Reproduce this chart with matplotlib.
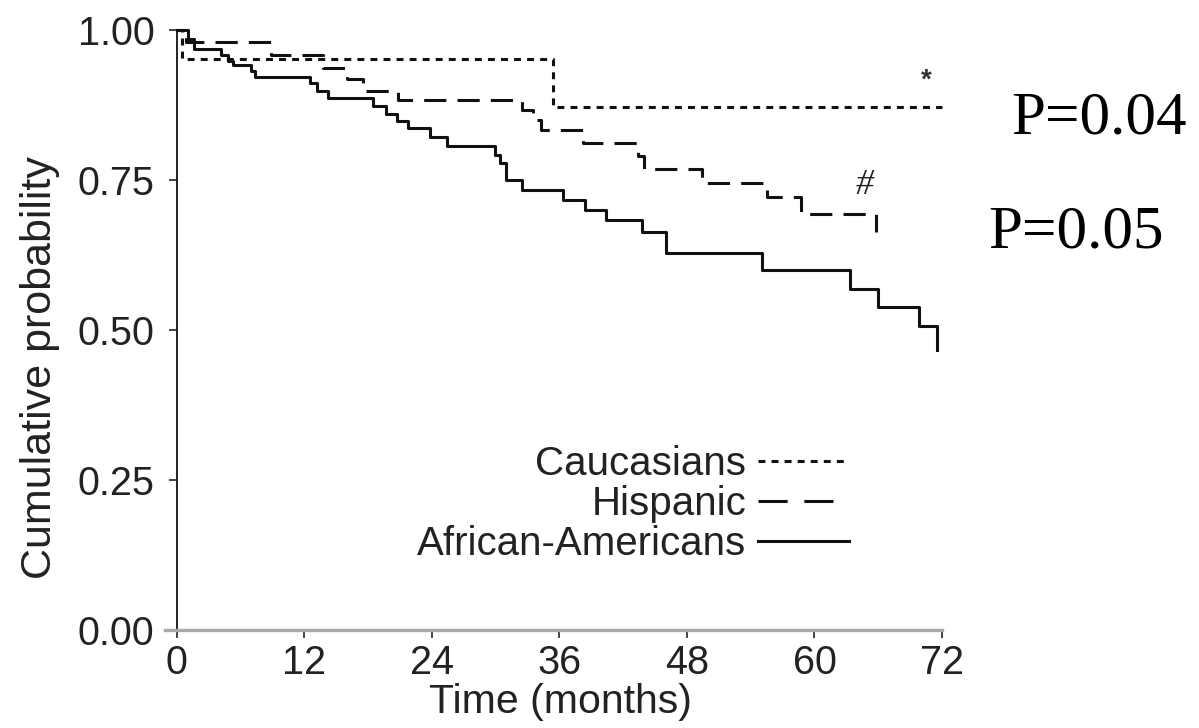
import matplotlib
matplotlib.use("Agg")
import matplotlib.pyplot as plt
from matplotlib.lines import Line2D

plt.rcParams["lines.scale_dashes"] = False
plt.rcParams["font.family"] = ["Liberation Sans", "DejaVu Sans"]

# Kaplan-Meier step data (months, cumulative probability)
cauc_t = [0, 0.5, 35.4, 72.0]
cauc_s = [1.0, 0.952, 0.872, 0.872]

hisp_t = [0, 0.9, 8.9, 13.8, 16.0, 17.5, 20.8, 32.5, 33.5, 34.3, 38.2,
          43.4, 44.0, 49.4, 55.5, 58.7, 65.8]
hisp_s = [1.0, 0.98, 0.958, 0.936, 0.918, 0.898, 0.883, 0.867, 0.85, 0.833,
          0.812, 0.79, 0.769, 0.745, 0.722, 0.693, 0.664]

afam_t = [0, 1.1, 1.6, 4.2, 4.8, 5.3, 7.0, 7.4, 12.5, 13.2, 14.2, 18.5,
          19.7, 20.7, 21.8, 23.8, 25.4, 29.9, 30.4, 31.0, 32.5, 36.3, 38.4,
          40.4, 43.8, 46.0, 55.1, 63.3, 66.0, 69.8, 71.5]
afam_s = [1.0, 0.985, 0.969, 0.958, 0.948, 0.942, 0.932, 0.922, 0.912,
          0.899, 0.887, 0.873, 0.86, 0.848, 0.836, 0.822, 0.807, 0.792,
          0.778, 0.75, 0.734, 0.717, 0.70, 0.683, 0.664, 0.628, 0.60,
          0.569, 0.539, 0.506, 0.467]

labels = ["Caucasians", "Hispanic", "African-Americans"]
x_ticks = [0, 12, 24, 36, 48, 60, 72]
y_ticks = [0.0, 0.25, 0.5, 0.75, 1.0]
y_ticklabels = ["0.00", "0.25", "0.50", "0.75", "1.00"]
p_texts = ["P=0.04", "P=0.05"]

ink = "#111111"
txt = "#222222"
fig = plt.figure(figsize=(11.99, 7.28), dpi=100)
ax = fig.add_axes([165 / 1199, 98 / 728, 777 / 1199, 600 / 728])

lw = 2.2
l1, = ax.step(cauc_t, cauc_s, where="post", color=ink, lw=lw,
              linestyle=(0, (5.0, 4.4)), clip_on=False)
l2, = ax.step(hisp_t, hisp_s, where="post", color=ink, lw=lw,
              linestyle=(12, (16.0, 8.0)), clip_on=False)
l3, = ax.step(afam_t, afam_s, where="post", color=ink, lw=lw,
              linestyle="-", clip_on=False)

ax.text(70.5, 0.916, "*", fontsize=20, ha="center", va="center",
        color="#333333", fontweight="bold")
ax.text(64.7, 0.74, "#", fontsize=26, family="Liberation Serif",
        style="italic", ha="center", va="center", color=txt)

ax.set_xlim(-1.1, 72)
ax.set_ylim(0, 1.0)
ax.set_xticks(x_ticks)
ax.set_yticks(y_ticks)
ax.set_yticklabels(y_ticklabels)

for s in ("top", "right"):
    ax.spines[s].set_visible(False)
ax.spines["left"].set_position(("data", 0))
ax.spines["left"].set_color(ink)
ax.spines["left"].set_linewidth(1.3)
ax.spines["bottom"].set_color("#a8a8a8")
ax.spines["bottom"].set_linewidth(2.4)

ax.tick_params(axis="y", length=6, width=1.1, color=ink, pad=10,
               labelsize=28.5, labelcolor=txt)
ax.tick_params(axis="x", length=6, width=1.1, color=ink, pad=4,
               labelsize=28.5, labelcolor=txt)

ax.set_xlabel("Time (months)", fontsize=29.5, color=txt)
ax.xaxis.set_label_coords((560 - 165) / 777, -0.12)
ax.xaxis.label.set_va("center")
ax.set_ylabel("Cumulative probability", fontsize=31, color=txt)
ax.yaxis.set_label_coords((40 - 165) / 777, 0.438)
ax.yaxis.label.set_va("center")

# legend key for the dashed series uses a longer dash so two dashes show
h2 = Line2D([], [], color=ink, lw=lw, linestyle=(0, (21.0, 12.0)))

leg = ax.legend([l1, h2, l3], labels, loc="center right",
                bbox_to_anchor=((849 - 165) / 777, (630 - 504) / 600),
                frameon=False, markerfirst=False, fontsize=29,
                handlelength=2.25, handletextpad=0.3, labelspacing=0.05,
                borderpad=0, borderaxespad=0)
for t in leg.get_texts():
    t.set_color(txt)

fig.text(1011 / 1199, 1 - 119 / 728, p_texts[0], fontsize=44,
         family="Liberation Serif", va="center", ha="left")
fig.text(988 / 1199, 1 - 233 / 728, p_texts[1], fontsize=44,
         family="Liberation Serif", va="center", ha="left")

fig.savefig("out.png", dpi=100)
